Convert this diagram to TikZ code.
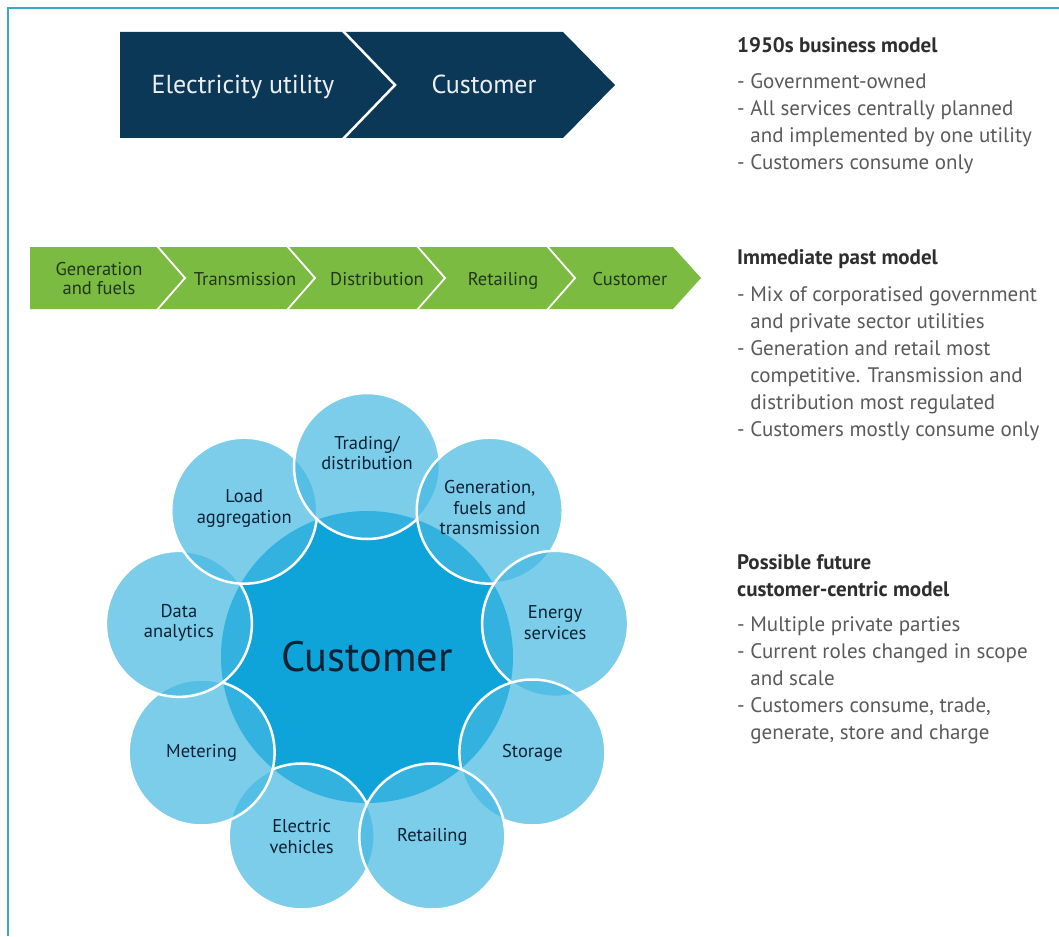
\documentclass[tikz,border=0pt]{standalone}
\usepackage{fontspec}
\setmainfont{PT Sans}
\usetikzlibrary{positioning}

\definecolor{navy}{HTML}{0C3858}
\definecolor{leaf}{HTML}{7CBB42}
\definecolor{leafink}{HTML}{22361A}
\definecolor{core}{HTML}{0EA4DA}
\definecolor{petal}{HTML}{45B8E2}
\definecolor{frame}{HTML}{36A9C4}
\definecolor{ink}{HTML}{0B2235}
\definecolor{greyink}{HTML}{5A5A5A}
\definecolor{headink}{HTML}{2E2E2E}

\begin{document}
\begin{tikzpicture}[x=1pt,y=-1pt,
    navy label/.style={text=navy!8,font=\fontsize{26}{28}\selectfont,inner sep=0pt,anchor=mid},
    leaf label/.style={text=leafink,font=\fontsize{18.5}{19}\selectfont,align=center,inner sep=0pt},
    core node/.style={circle,fill=core,minimum size=292pt,inner sep=0pt},
    petal node/.style={circle,fill=petal,fill opacity=0.7,draw=white,line width=2.5pt,
                       minimum size=146pt,inner sep=0pt},
    petal label/.style={text=ink,font=\fontsize{18.5}{20.5}\selectfont,align=center,inner sep=0pt},
    head/.style={text=headink,font=\bfseries\fontsize{21}{27}\selectfont,align=left,inner sep=0pt},
    body/.style={text=greyink,font=\fontsize{21}{27}\selectfont,align=left,inner sep=0pt}]

  \useasboundingbox (0,0) rectangle (1059,936);
  \fill[white] (0,0) rectangle (1059,936);
  \draw[frame,line width=2pt] (8,936) -- (8,8) -- (1059,8);

  % 1950s chain
  \fill[navy] (120,32) -- (343,32) -- (395,85) -- (343,138) -- (120,138) -- cycle;
  \fill[navy] (343,32) -- (563,32) -- (615,85) -- (563,138) -- (343,138) -- (395,85) -- cycle;
  \draw[white,line width=2.5pt] (343,31) -- (395,85) -- (343,139);
  \node[navy label] (utility) at (243,91) {Electricity utility};
  \node[navy label] (cust1) at (484,91) {Customer};

  % immediate past chain
  \fill[leaf] (30,247) -- (157,247) -- (185,278) -- (157,309) -- (30,309) -- cycle;
  \foreach \l/\r in {157/287,287/417,417/547,547/673}
    \fill[leaf] (\l,247) -- (\r,247) -- (\r+28,278) -- (\r,309) -- (\l,309) -- (\l+28,278) -- cycle;
  \foreach \l in {157,287,417,547}
    \draw[white,line width=1.8pt] (\l,246) -- (\l+28,278) -- (\l,310);
  \node[leaf label] (gen) at (99,279) {Generation\\and fuels};
  \node[leaf label,anchor=mid] (trans) at (245,283) {Transmission};
  \node[leaf label,anchor=mid] (dist) at (377,283) {Distribution};
  \node[leaf label,anchor=mid] (retail) at (503,283) {Retailing};
  \node[leaf label,anchor=mid] (cust2) at (630,283) {Customer};

  % customer-centric ring
  \node[core node] (core) at (367,657) {};
  \foreach \a/\n in {-110/ev,-150/meter,-190/data,-230/load,-270/trade,
                     -310/genfuel,-350/energy,-390/store,-430/retailing}
    \node[petal node] (\n) at ([shift={(\a:191pt)}]core) {};
  \foreach \n/\txt/\dy in {ev/{Electric\\vehicles}/0,
                           meter/{Metering}/0,
                           data/{Data\\analytics}/1,
                           load/{Load\\aggregation}/2,
                           trade/{Trading/\\distribution}/13,
                           genfuel/{Generation,\\fuels and\\transmission}/3,
                           energy/{Energy\\services}/1,
                           store/{Storage}/0,
                           retailing/{Retailing}/0}
    \node[petal label] (\n-text) at ([yshift=\dy pt]\n) {\txt};
  \node[text=ink,font=\fontsize{42.5}{46}\selectfont,inner sep=0pt] (core-text) at (core) {Customer};

  % model notes
  \node[head,anchor=base west] (h1) at (737,53) {1950s business model};
  \node[body,anchor=north west] (b1) at (737,73)
    {- Government-owned\\
     - All services centrally planned\\
     \hphantom{- }and implemented by one utility\\
     - Customers consume only};
  \node[head,anchor=base west] (h2) at (737,264) {Immediate past model};
  \node[body,anchor=north west] (b2) at (737,286)
    {- Mix of corporatised government\\
     \hphantom{- }and private sector utilities\\
     - Generation and retail most\\
     \hphantom{- }competitive. Transmission and\\
     \hphantom{- }distribution most regulated\\
     - Customers mostly consume only};
  \node[head,anchor=north west] (h3) at (737,554) {Possible future\\customer-centric model};
  \node[body,anchor=north west] (b3) at (737,616)
    {- Multiple private parties\\
     - Current roles changed in scope\\
     \hphantom{- }and scale\\
     - Customers consume, trade,\\
     \hphantom{- }generate, store and charge};
\end{tikzpicture}
\end{document}
